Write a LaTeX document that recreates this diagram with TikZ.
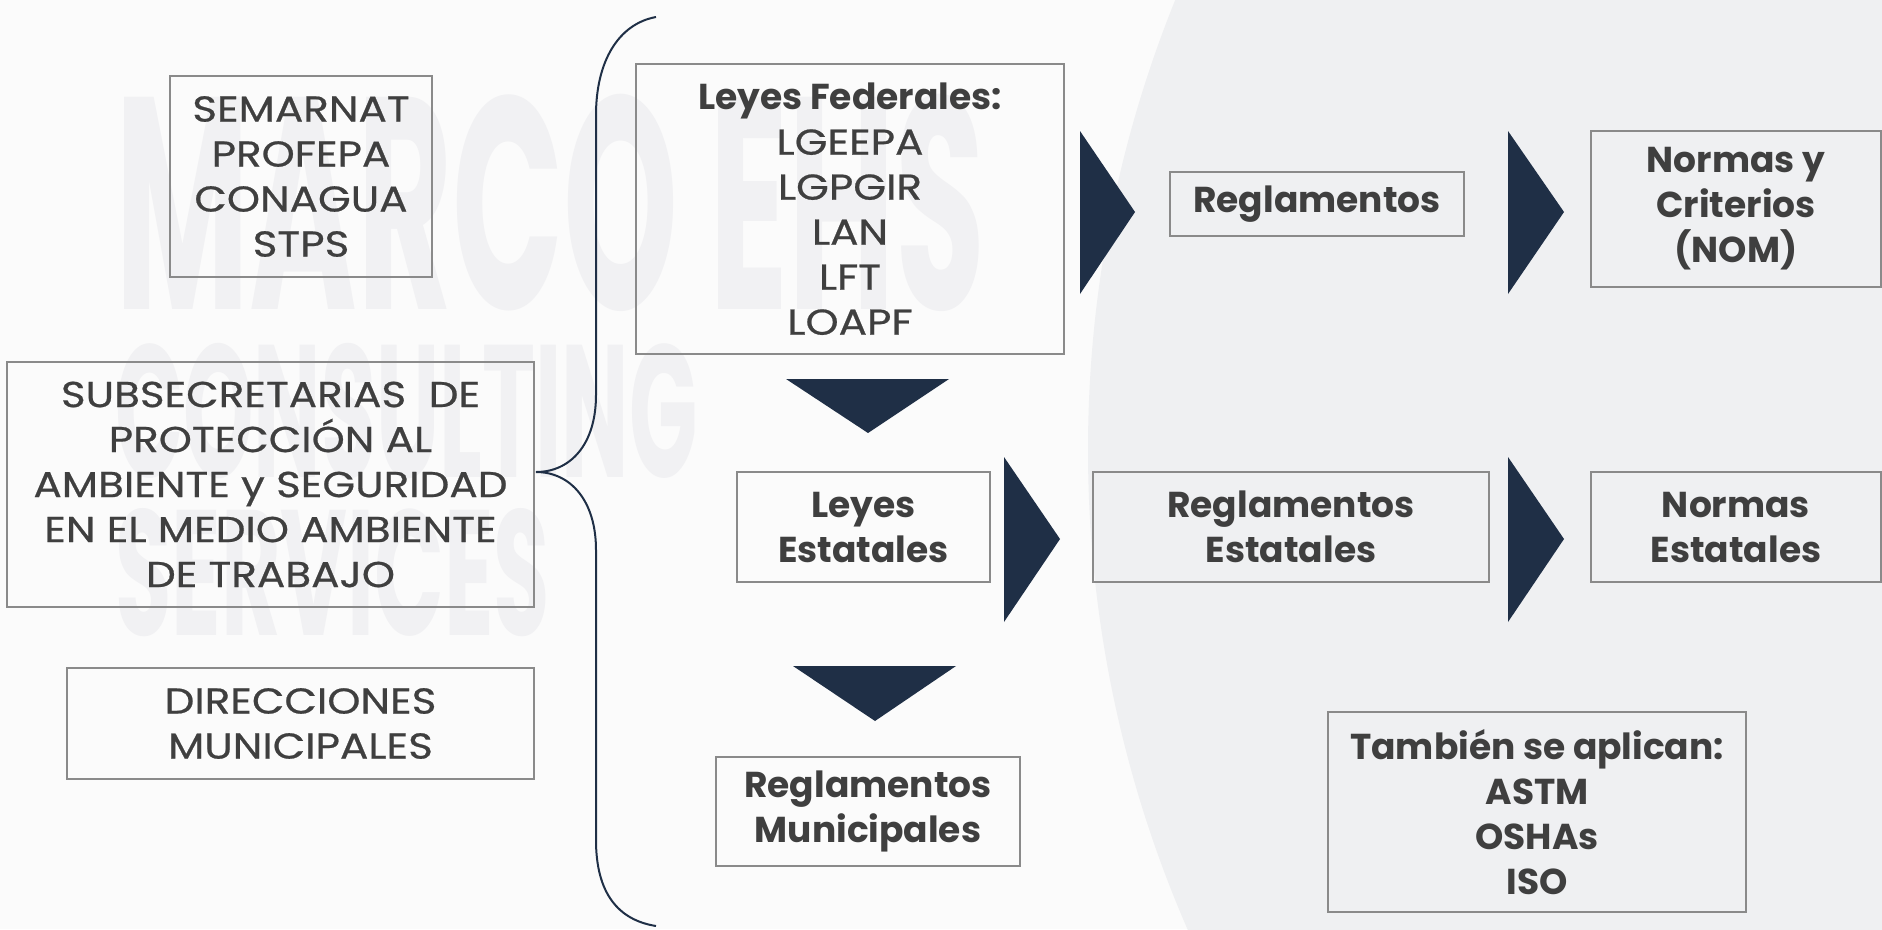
\documentclass[tikz,border=0pt]{standalone}
\usepackage{fontspec}
\setmainfont{Poppins}
\newfontfamily\regf{Poppins}[FakeStretch=1.17, FakeBold=0.6]
\definecolor{bg}{HTML}{FBFBFB}
\definecolor{globe}{HTML}{EFF0F2}
\definecolor{wm}{HTML}{F1F1F3}
\definecolor{navy}{HTML}{1F2F46}
\definecolor{boxc}{HTML}{8A8A8A}
\definecolor{txt}{HTML}{3F3F3F}
\tikzset{
  mybox/.style={draw=boxc, line width=1.3pt, align=center, inner sep=0pt, text=txt,
    font=\fontsize{36}{45}\selectfont\regf},
  boldbox/.style={mybox, font=\fontsize{36}{45}\selectfont\normalfont\bfseries},
  chevron/.style={fill=navy},
  bracket/.style={draw=navy, line width=2pt},
  wmark/.style={text=wm, inner sep=0pt, anchor=north west}
}
\begin{document}
\begin{tikzpicture}[x=1pt,y=-1pt]
\useasboundingbox (0,0) rectangle (1882,929);
\fill[bg] (0,0) rectangle (1882,929);
\begin{scope}
  \clip (0,0) rectangle (1882,929);
  \fill[globe] (2288,450) circle (1200);
\end{scope}
% watermark
\node[wmark] (wm1) at (115,94) {\resizebox{870pt}{215pt}{\bfseries MARCO EHS}};
\node[wmark] (wm2) at (115,343) {\resizebox{582pt}{134pt}{\bfseries CONSULTING}};
\node[wmark] (wm3) at (115,508) {\resizebox{435pt}{127pt}{\bfseries SERVICES}};
% left column
\node[mybox, minimum width=262pt, minimum height=201pt] (sem) at (301,176.5)
  {SEMARNAT\\PROFEPA\\CONAGUA\\STPS};
\node[mybox, minimum width=527pt, minimum height=245pt] (sub) at (270.5,484.5)
  {SUBSECRETARIAS\ \ DE\\PROTECCIÓN AL\\AMBIENTE y SEGURIDAD\\EN EL MEDIO AMBIENTE\\DE TRABAJO};
\node[mybox, minimum width=467pt, minimum height=111pt] (dir) at (300.5,723.5)
  {DIRECCIONES\\MUNICIPALES};
% bracket
\coordinate (btop) at (656,17);
\coordinate (bmid) at (536,472);
\coordinate (bbot) at (656,926);
\draw[bracket] (btop) .. controls (618,24) and (596,62) .. (596,115) -- (596,395)
  .. controls (596,445) and (570,472) .. (bmid)
  .. controls (570,472) and (596,500) .. (596,550) -- (596,840)
  .. controls (596,893) and (618,920) .. (bbot);
% center column
\node[mybox, minimum width=428pt, minimum height=290pt] (lf) at (850,209)
  {{\normalfont\bfseries Leyes Federales:}\\LGEEPA\\LGPGIR\\LAN\\LFT\\LOAPF};
\node[boldbox, minimum width=253pt, minimum height=110pt] (le) at (863.5,527)
  {Leyes\\Estatales};
\node[boldbox, minimum width=304pt, minimum height=109pt] (rm) at (868,811.5)
  {Reglamentos\\Municipales};
% right columns
\node[boldbox, minimum width=294pt, minimum height=64pt] (reg) at (1317,204)
  {Reglamentos};
\node[boldbox, minimum width=290pt, minimum height=156pt] (nom) at (1736,209)
  {Normas y\\Criterios\\(NOM)};
\node[boldbox, minimum width=396pt, minimum height=110pt] (re) at (1291,527)
  {Reglamentos\\Estatales};
\node[boldbox, minimum width=290pt, minimum height=110pt] (ne) at (1736,527)
  {Normas\\Estatales};
\node[boldbox, minimum width=418pt, minimum height=200pt] (tam) at (1537,812)
  {También se aplican:\\ASTM\\OSHAs\\ISO};
% chevrons
\fill[chevron] (1080,131) -- (1135,212) -- (1080,294) -- cycle;
\fill[chevron] (1508,131) -- (1564,212) -- (1508,294) -- cycle;
\fill[chevron] (1004,457) -- (1060,539) -- (1004,622) -- cycle;
\fill[chevron] (1508,457) -- (1564,539) -- (1508,622) -- cycle;
\fill[chevron] (786,379) -- (949,379) -- (868,433) -- cycle;
\fill[chevron] (793,666) -- (956,666) -- (875,721) -- cycle;
\end{tikzpicture}
\end{document}
